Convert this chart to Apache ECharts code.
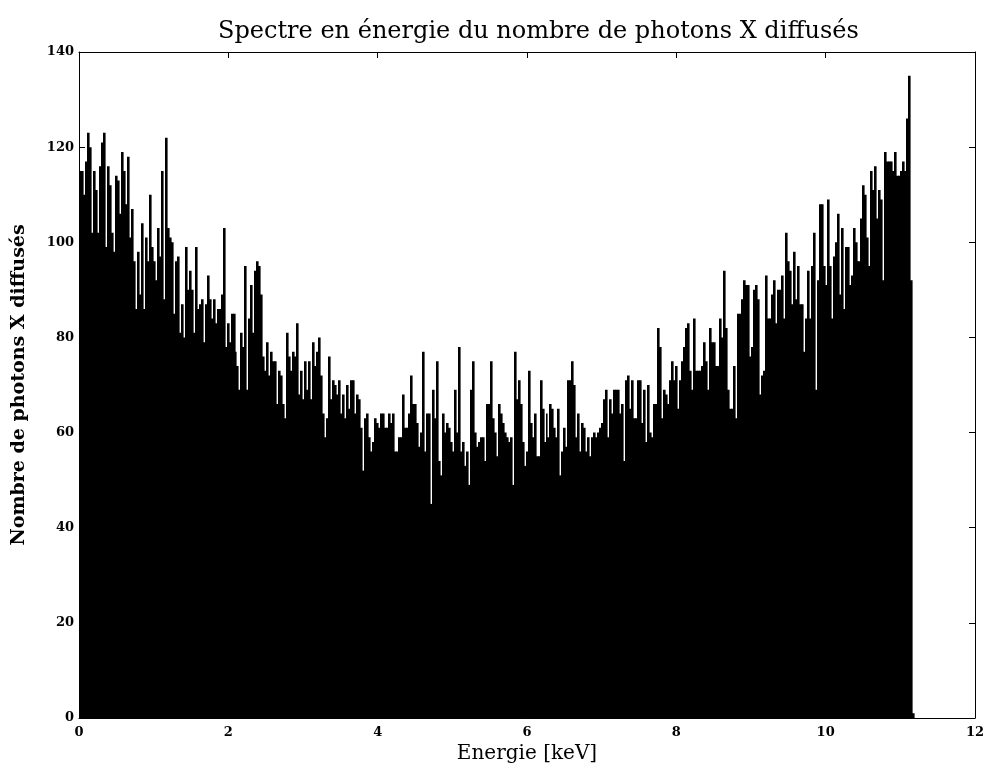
<!DOCTYPE html>
<html><head><meta charset="utf-8">
<script src="https://cdn.jsdelivr.net/npm/echarts@6/dist/echarts.min.js"></script>
<style>html,body{margin:0;padding:0;background:#fff}#c{width:991px;height:771px}</style>
</head><body><div id="c"></div>
<script>
// Histogram counts (photons per energy bin)
const counts = [
115,115,110,117,123,120,102,115,111,102,116,121,123,99,116,112,102,98,114,113,106,119,115,108,118,101,107,96,86,98,89,104,86,101,96,110,99,96,
92,103,97,115,88,122,103,101,100,85,96,97,81,87,80,99,90,94,90,81,99,86,87,88,79,87,93,88,84,88,83,86,86,89,103,78,83,79,85,
85,77,74,69,81,78,95,69,84,91,81,94,96,95,89,76,73,79,72,77,75,75,66,73,72,66,63,81,76,73,77,76,83,68,73,67,75,69,75,
67,79,74,77,80,72,64,59,63,76,67,71,70,68,71,64,68,63,70,65,71,71,64,68,67,61,52,63,64,59,56,58,63,62,61,64,64,61,61,
64,62,64,56,56,59,59,68,61,61,64,72,66,66,62,57,60,77,56,64,64,45,69,63,75,54,51,64,60,62,61,58,56,69,60,78,56,58,53,
56,49,69,75,60,57,58,59,59,54,66,66,75,63,60,55,66,64,62,60,59,58,59,49,77,67,71,66,58,53,56,73,62,59,64,55,55,71,65,
58,64,59,66,65,61,59,65,51,56,61,57,71,71,75,70,59,64,56,62,61,56,59,55,59,60,59,60,61,62,67,69,59,67,64,69,69,69,64,
66,54,71,72,65,71,63,63,71,71,62,69,58,70,60,59,66,66,82,78,63,69,68,66,71,75,71,74,65,71,75,78,82,83,73,69,84,73,73,
73,74,79,75,69,82,79,79,74,74,84,80,94,82,69,65,65,74,63,85,85,88,92,91,91,76,78,90,91,88,68,72,73,93,84,84,89,92,83,
90,90,93,84,102,96,94,87,98,88,95,87,87,77,84,94,84,95,102,69,92,108,108,95,91,109,95,84,97,100,106,89,103,86,99,99,91,93,103,
100,96,96,105,112,110,101,95,115,111,116,105,111,109,92,119,117,117,117,115,119,114,114,115,117,115,126,135,92,1
];
const binStart = 0;        // keV
const binWidth = 0.0267;   // keV
const xTicks = [0, 2, 4, 6, 8, 10, 12];
const yTicks = [0, 20, 40, 60, 80, 100, 120, 140];

const titleText = 'Spectre en énergie du nombre de photons X diffusés';
const xName = 'Energie [keV]';
const yName = 'Nombre de photons X diffusés';

const data = counts.map((c, i) => [binStart + i * binWidth, binStart + (i + 1) * binWidth, c]);

const FONT = 'DejaVu Serif';
const chart = echarts.init(document.getElementById('c'), null, {renderer: 'canvas'});

function xAx(pos, labels) {
  return {
    type: 'value', position: pos, min: xTicks[0], max: xTicks[xTicks.length - 1],
    interval: xTicks[1] - xTicks[0],
    axisLine: {show: true, onZero: false, lineStyle: {color: '#000', width: 1}},
    axisTick: {show: true, inside: true, length: 6, lineStyle: {color: '#000'}},
    axisLabel: {show: labels, color: '#000', fontFamily: FONT, fontSize: 13, fontWeight: 'bold', margin: 8},
    splitLine: {show: false},
    name: labels ? xName : '', nameLocation: 'middle', nameGap: 17,
    nameTextStyle: {color: '#000', fontFamily: FONT, fontSize: 20, verticalAlign: 'top'}
  };
}
function yAx(pos, labels) {
  return {
    type: 'value', position: pos, min: yTicks[0], max: yTicks[yTicks.length - 1],
    interval: yTicks[1] - yTicks[0],
    axisLine: {show: true, onZero: false, lineStyle: {color: '#000', width: 1}},
    axisTick: {show: true, inside: true, length: 6, lineStyle: {color: '#000'}},
    axisLabel: {show: labels, color: '#000', fontFamily: FONT, fontSize: 13, fontWeight: 'bold', margin: 5},
    splitLine: {show: false},
    name: labels ? yName : '', nameLocation: 'middle', nameGap: 50,
    nameTextStyle: {color: '#000', fontFamily: FONT, fontSize: 19, fontWeight: 'bold'}
  };
}

chart.setOption({
  animation: false,
  backgroundColor: '#fff',
  title: {
    text: titleText, left: 213, top: 15,
    textStyle: {color: '#000', fontFamily: FONT, fontSize: 24, fontWeight: 'normal'}
  },
  grid: {left: 79, right: 16, top: 52, bottom: 53, show: false},
  xAxis: [xAx('bottom', true), xAx('top', false)],
  yAxis: [yAx('left', true), yAx('right', false)],
  series: [{
    type: 'custom',
    xAxisIndex: 0, yAxisIndex: 0,
    data: data,
    encode: {x: [0, 1], y: 2},
    renderItem: function (params, api) {
      const p0 = api.coord([api.value(0), api.value(2)]);
      const p1 = api.coord([api.value(1), 0]);
      const x0 = Math.round(p0[0]);
      const x1 = Math.round(p1[0]);
      return {
        type: 'rect',
        shape: {x: x0, y: p0[1], width: Math.max(1, x1 - x0) + 0.6, height: p1[1] - p0[1]},
        style: {fill: '#000'}
      };
    }
  }]
});
</script></body></html>
